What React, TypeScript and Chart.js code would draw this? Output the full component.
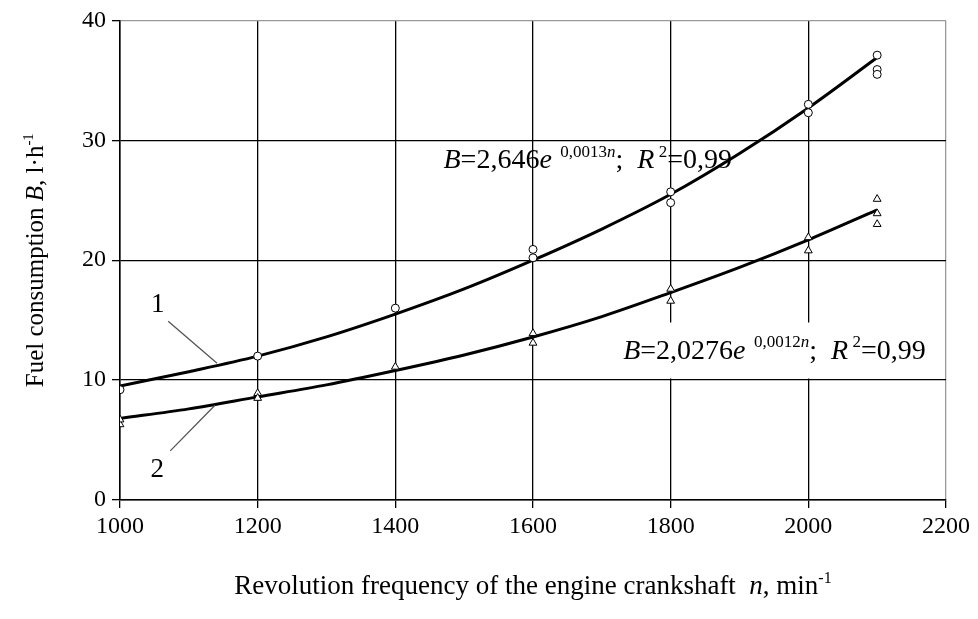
import React, { useEffect, useRef } from "react";
import { Chart, registerables } from "chart.js";

Chart.register(...registerables);

// Fitted trend curves
const curveN = [1000, 1100, 1200, 1300, 1400, 1500, 1600, 1700, 1800, 1900, 2000, 2100];
const curve1 = [9.5, 10.7, 12.0, 13.6, 15.5, 17.6, 20.0, 22.6, 25.5, 28.9, 32.7, 36.9];
const curve2 = [6.8, 7.6, 8.6, 9.6, 10.8, 12.1, 13.6, 15.3, 17.3, 19.4, 21.7, 24.2];

// Measured points
const obs1N = [1000, 1200, 1400, 1600, 1600, 1800, 1800, 2000, 2000, 2100, 2100, 2100];
const obs1B = [9.2, 12.0, 16.0, 20.9, 20.2, 25.7, 24.8, 33.0, 32.3, 37.1, 35.9, 35.5];
const obs2N = [1000, 1000, 1200, 1200, 1400, 1600, 1600, 1800, 1800, 2000, 2000, 2100, 2100, 2100];
const obs2B = [6.3, 6.7, 8.9, 8.5, 11.1, 13.9, 13.1, 17.6, 16.6, 21.9, 20.8, 25.1, 23.9, 23.0];

const xTicks = [1000, 1200, 1400, 1600, 1800, 2000, 2200];
const yTicks = [0, 10, 20, 30, 40];

type Run = { t: string; i?: boolean; sup?: boolean };

const ann1: Run[] = [
  { t: "B", i: true }, { t: "=2,646" }, { t: "e", i: true }, { t: "  ", sup: true }, { t: "0,0013", sup: true }, { t: "n", i: true, sup: true },
  { t: ";  " }, { t: "R", i: true }, { t: " 2", sup: true }, { t: "=0,99" },
];
const ann2: Run[] = [
  { t: "B", i: true }, { t: "=2,0276" }, { t: "e", i: true }, { t: "  ", sup: true }, { t: "0,0012", sup: true }, { t: "n", i: true, sup: true },
  { t: ";  " }, { t: "R", i: true }, { t: " 2", sup: true }, { t: "=0,99" },
];
const yTitle: Run[] = [{ t: "Fuel consumption " }, { t: "B", i: true }, { t: ", l\u00B7h" }, { t: "-1", sup: true }];
const xTitle: Run[] = [
  { t: "Revolution frequency of the engine crankshaft  " }, { t: "n", i: true }, { t: ", min" }, { t: "-1", sup: true },
];

const FAMILY = '"Liberation Serif", "Times New Roman", serif';
const ANN_SIZE = 28;

function runFont(r: Run, size: number) {
  const s = r.sup ? Math.round(size * 0.6) : size;
  return `${r.i ? "italic " : ""}${s}px ${FAMILY}`;
}
function runsWidth(ctx: CanvasRenderingContext2D, runs: Run[], size: number) {
  let w = 0;
  for (const r of runs) {
    ctx.font = runFont(r, size);
    w += ctx.measureText(r.t).width;
  }
  return w;
}
function drawRuns(ctx: CanvasRenderingContext2D, runs: Run[], x: number, y: number, size: number, center: boolean) {
  let cx = center ? x - runsWidth(ctx, runs, size) / 2 : x;
  ctx.textBaseline = "alphabetic";
  ctx.textAlign = "left";
  for (const r of runs) {
    ctx.font = runFont(r, size);
    ctx.fillText(r.t, cx, r.sup ? y - size * 0.4 : y);
    cx += ctx.measureText(r.t).width;
  }
}

const annotationPlugin = {
  id: "annotations",
  beforeDatasetsDraw(chart: any) {
    const { ctx, scales } = chart;
    const x = scales.x.getPixelForValue(1731);
    const y = scales.y.getPixelForValue(11.8);
    const w = runsWidth(ctx, ann2, ANN_SIZE);
    ctx.save();
    ctx.fillStyle = "#fff";
    ctx.fillRect(x - 8, y - 36, w + 16, 56);
    ctx.restore();
  },
  afterDatasetsDraw(chart: any) {
    const { ctx, scales } = chart;
    const px = (n: number) => scales.x.getPixelForValue(n);
    const py = (b: number) => scales.y.getPixelForValue(b);
    ctx.save();
    ctx.fillStyle = "#000";
    drawRuns(ctx, ann1, px(1470), py(27.7), ANN_SIZE, false);
    drawRuns(ctx, ann2, px(1731), py(11.8), ANN_SIZE, false);

    // leader lines
    ctx.strokeStyle = "#555";
    ctx.lineWidth = 1.3;
    ctx.beginPath();
    ctx.moveTo(px(1070), py(14.9));
    ctx.lineTo(px(1141), py(11.4));
    ctx.moveTo(px(1138), py(7.9));
    ctx.lineTo(px(1073), py(4.1));
    ctx.stroke();
    ctx.font = `27px ${FAMILY}`;
    ctx.textAlign = "center";
    ctx.textBaseline = "middle";
    ctx.fillText("1", px(1055), py(16.3));
    ctx.fillText("2", px(1054), py(2.5));

    // axis titles
    const area = chart.chartArea;
    drawRuns(ctx, xTitle, (area.left + area.right) / 2, 594, 27, true);
    ctx.translate(43, (area.top + area.bottom) / 2);
    ctx.rotate(-Math.PI / 2);
    drawRuns(ctx, yTitle, 0, 0, 25, true);
    ctx.restore();
  },
};

export default function App() {
  const ref = useRef<HTMLCanvasElement | null>(null);
  useEffect(() => {
    document.body.style.margin = "0";
    const canvas = ref.current!;
    const tickFont = { family: FAMILY, size: 24 };
    const chart = new Chart(canvas, {
      type: "scatter",
      data: {
        datasets: [
          {
            data: obs1N.map((n, i) => ({ x: n, y: obs1B[i] })),
            pointStyle: "circle",
            pointRadius: 4,
            backgroundColor: "#fff",
            borderColor: "#000",
            borderWidth: 1,
            showLine: false,
          },
          {
            data: obs2N.map((n, i) => ({ x: n, y: obs2B[i] })),
            pointStyle: "triangle",
            pointRadius: 4.5,
            backgroundColor: "#fff",
            borderColor: "#000",
            borderWidth: 1,
            showLine: false,
          },
          {
            type: "line",
            data: curveN.map((n, i) => ({ x: n, y: curve1[i] })),
            borderColor: "#000",
            borderWidth: 3,
            pointRadius: 0,
            cubicInterpolationMode: "monotone",
            fill: false,
          },
          {
            type: "line",
            data: curveN.map((n, i) => ({ x: n, y: curve2[i] })),
            borderColor: "#000",
            borderWidth: 3,
            pointRadius: 0,
            cubicInterpolationMode: "monotone",
            fill: false,
          },
        ] as any,
      },
      options: {
        responsive: false,
        animation: false,
        layout: { padding: { top: 12, right: 32, left: 0, bottom: 0 } },
        plugins: { legend: { display: false }, tooltip: { enabled: false } },
        scales: {
          x: {
            type: "linear",
            min: 1000,
            max: 2200,
            afterBuildTicks: (s: any) => {
              s.ticks = xTicks.map((v) => ({ value: v }));
            },
            afterFit: (s: any) => {
              s.height = 119;
            },
            ticks: { font: tickFont, color: "#000", padding: 4, maxRotation: 0, autoSkip: false, callback: (v: any) => String(v) },
            grid: {
              color: (c: any) => (c.tick && c.tick.value === 2200 ? "#9a9a9a" : "#000"),
              lineWidth: 1.3,
              tickLength: 8,
              tickColor: "#000",
            },
            border: { color: "#000", width: 1.5 },
          },
          y: {
            type: "linear",
            min: 0,
            max: 40,
            afterBuildTicks: (s: any) => {
              s.ticks = yTicks.map((v) => ({ value: v }));
            },
            afterFit: (s: any) => {
              s.width = 120;
            },
            ticks: { font: tickFont, color: "#000", padding: 6, callback: (v: any) => String(v) },
            grid: {
              color: (c: any) => (c.tick && c.tick.value === 40 ? "#9a9a9a" : "#000"),
              lineWidth: 1.3,
              tickLength: 8,
              tickColor: "#000",
            },
            border: { color: "#000", width: 1.5 },
          },
        },
      },
      plugins: [annotationPlugin],
    } as any);
    return () => chart.destroy();
  }, []);
  return <canvas ref={ref} width={978} height={619} style={{ display: "block" }} />;
}
